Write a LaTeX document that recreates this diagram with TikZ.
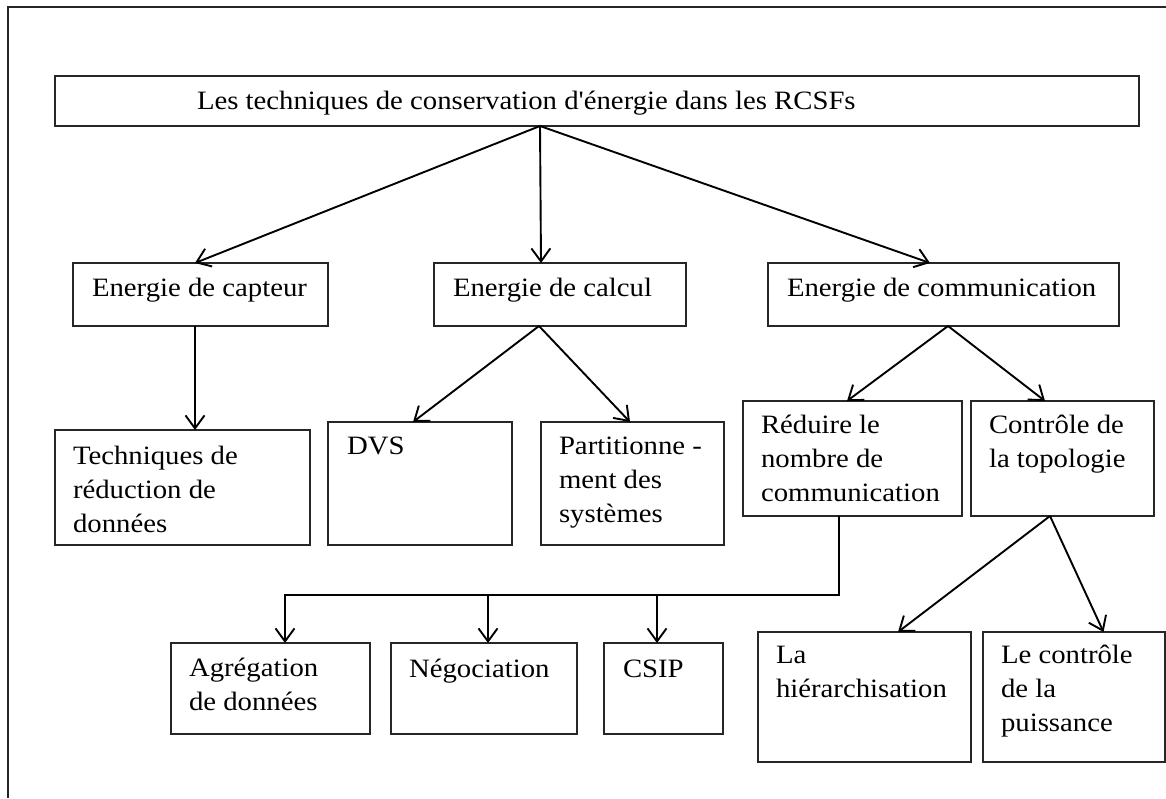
\documentclass[tikz,border=0pt]{standalone}
\usepackage{fontspec}
\setmainfont{Liberation Serif}[FakeStretch=1.085, Ligatures=TeXOff]
\usetikzlibrary{arrows.meta,calc}

% stacked, left-aligned lines whose baseline is the first line's
\newcommand\stk[1]{\vtop{\halign{##\hfil\cr#1\crcr}}}

\begin{document}
\begin{tikzpicture}[
  x=1pt, y=-1pt,
  cell/.style={draw=black!85, line width=1.1pt, rectangle, inner sep=0pt, outer sep=0pt, anchor=north west},
  txt/.style={inner sep=0pt, outer sep=0pt, anchor=base west, font=\fontsize{26.5}{34}\selectfont},
  conn/.style={draw=black, line width=1.9pt},
  arrow/.style={conn, -{Straight Barb[length=13pt,width=19pt,line width=1.9pt]}},
  frame/.style={draw=black!85, line width=1.8pt}
]
\useasboundingbox (0,0) rectangle (1166,798);

% open frame: top and left sides only
\draw[frame] (1166,7) -- (8,7) -- (8,798);

% boxes: name, x, y, width, height
\newcommand\cellat[5]{\node[cell, minimum width=#4pt, minimum height=#5pt] (#1) at (#2,#3) {};}
\cellat{root}{55}{76}{1084}{50}
\cellat{capteur}{73}{263}{255}{63}
\cellat{calcul}{434}{263}{252}{63}
\cellat{comm}{768}{263}{351}{63}
\cellat{tech}{55}{430}{255}{115}
\cellat{dvs}{328}{422}{184}{123}
\cellat{part}{541}{422}{183}{123}
\cellat{reduire}{743}{401}{219}{115}
\cellat{topo}{971}{401}{183}{115}
\cellat{agreg}{171}{643}{199}{91}
\cellat{nego}{391}{643}{186}{91}
\cellat{csip}{604}{643}{119}{91}
\cellat{hier}{758}{632}{213}{130}
\cellat{puis}{983}{632}{182}{130}

% texts, set from each box's top-left corner
\node[txt] (root-t) at ([shift={(142pt,-33pt)}]root.north west) {Les techniques de conservation d'énergie dans les RCSFs};
\node[txt] (capteur-t) at ([shift={(19pt,-33pt)}]capteur.north west) {Energie de capteur};
\node[txt] (calcul-t) at ([shift={(19pt,-33pt)}]calcul.north west) {Energie de calcul};
\node[txt] (comm-t) at ([shift={(19pt,-33pt)}]comm.north west) {Energie de communication};
\node[txt] (tech-t) at ([shift={(18pt,-34pt)}]tech.north west) {\stk{Techniques de\cr réduction de\cr données}};
\node[txt] (dvs-t) at ([shift={(19pt,-32pt)}]dvs.north west) {DVS};
\node[txt] (part-t) at ([shift={(18pt,-32pt)}]part.north west) {\stk{Partitionne -\cr ment des\cr systèmes}};
\node[txt] (reduire-t) at ([shift={(18pt,-32pt)}]reduire.north west) {\stk{Réduire le\cr nombre de\cr communication}};
\node[txt] (topo-t) at ([shift={(18pt,-32pt)}]topo.north west) {\stk{Contrôle de\cr la topologie}};
\node[txt] (agreg-t) at ([shift={(18pt,-33pt)}]agreg.north west) {\stk{Agrégation\cr de données}};
\node[txt] (nego-t) at ([shift={(18pt,-34pt)}]nego.north west) {Négociation};
\node[txt] (csip-t) at ([shift={(19pt,-34pt)}]csip.north west) {CSIP};
\node[txt] (hier-t) at ([shift={(18pt,-31pt)}]hier.north west) {\stk{La\cr hiérarchisation}};
\node[txt] (puis-t) at ([shift={(18pt,-31pt)}]puis.north west) {\stk{Le contrôle\cr de la\cr puissance}};

% first level
\draw[arrow] ([xshift=-57pt]root.south) -- ([xshift=-5.5pt]capteur.north);
\draw[arrow] ([xshift=-57pt]root.south) -- ([xshift=-19pt]calcul.north);
\draw[arrow] ([xshift=-57pt]root.south) -- ([xshift=-13.5pt]comm.north);

% sensing branch
\draw[arrow] ([xshift=-5.5pt]capteur.south) -- ([xshift=-5.5pt]capteur.south |- tech.north);

% computation branch
\draw[arrow] ([xshift=-21pt]calcul.south) -- ([xshift=-7pt]dvs.north);
\draw[arrow] ([xshift=-21pt]calcul.south) -- ([xshift=-2.5pt]part.north);

% communication branch
\draw[arrow] ([xshift=4.5pt]comm.south) -- ([xshift=-5.5pt]reduire.north);
\draw[arrow] ([xshift=4.5pt]comm.south) -- ([xshift=-17.5pt]topo.north);

% bus under "Réduire le nombre de communication"
\coordinate (busE) at (839,595);
\coordinate (busW) at (285,595);
\coordinate (busN) at (488,595);
\coordinate (busC) at (657,595);
\draw[arrow] (reduire.south -| busE) -- (busE) -- (busW) -- (busW |- agreg.north);
\draw[arrow] (busN) -- (busN |- nego.north);
\draw[arrow] (busC) -- (busC |- csip.north);

% topology branch
\draw[arrow] ([xshift=-12.5pt]topo.south) -- ([xshift=33.5pt]hier.north);
\draw[arrow] ([xshift=-12.5pt]topo.south) -- ([xshift=29.5pt]puis.north);
\end{tikzpicture}
\end{document}
